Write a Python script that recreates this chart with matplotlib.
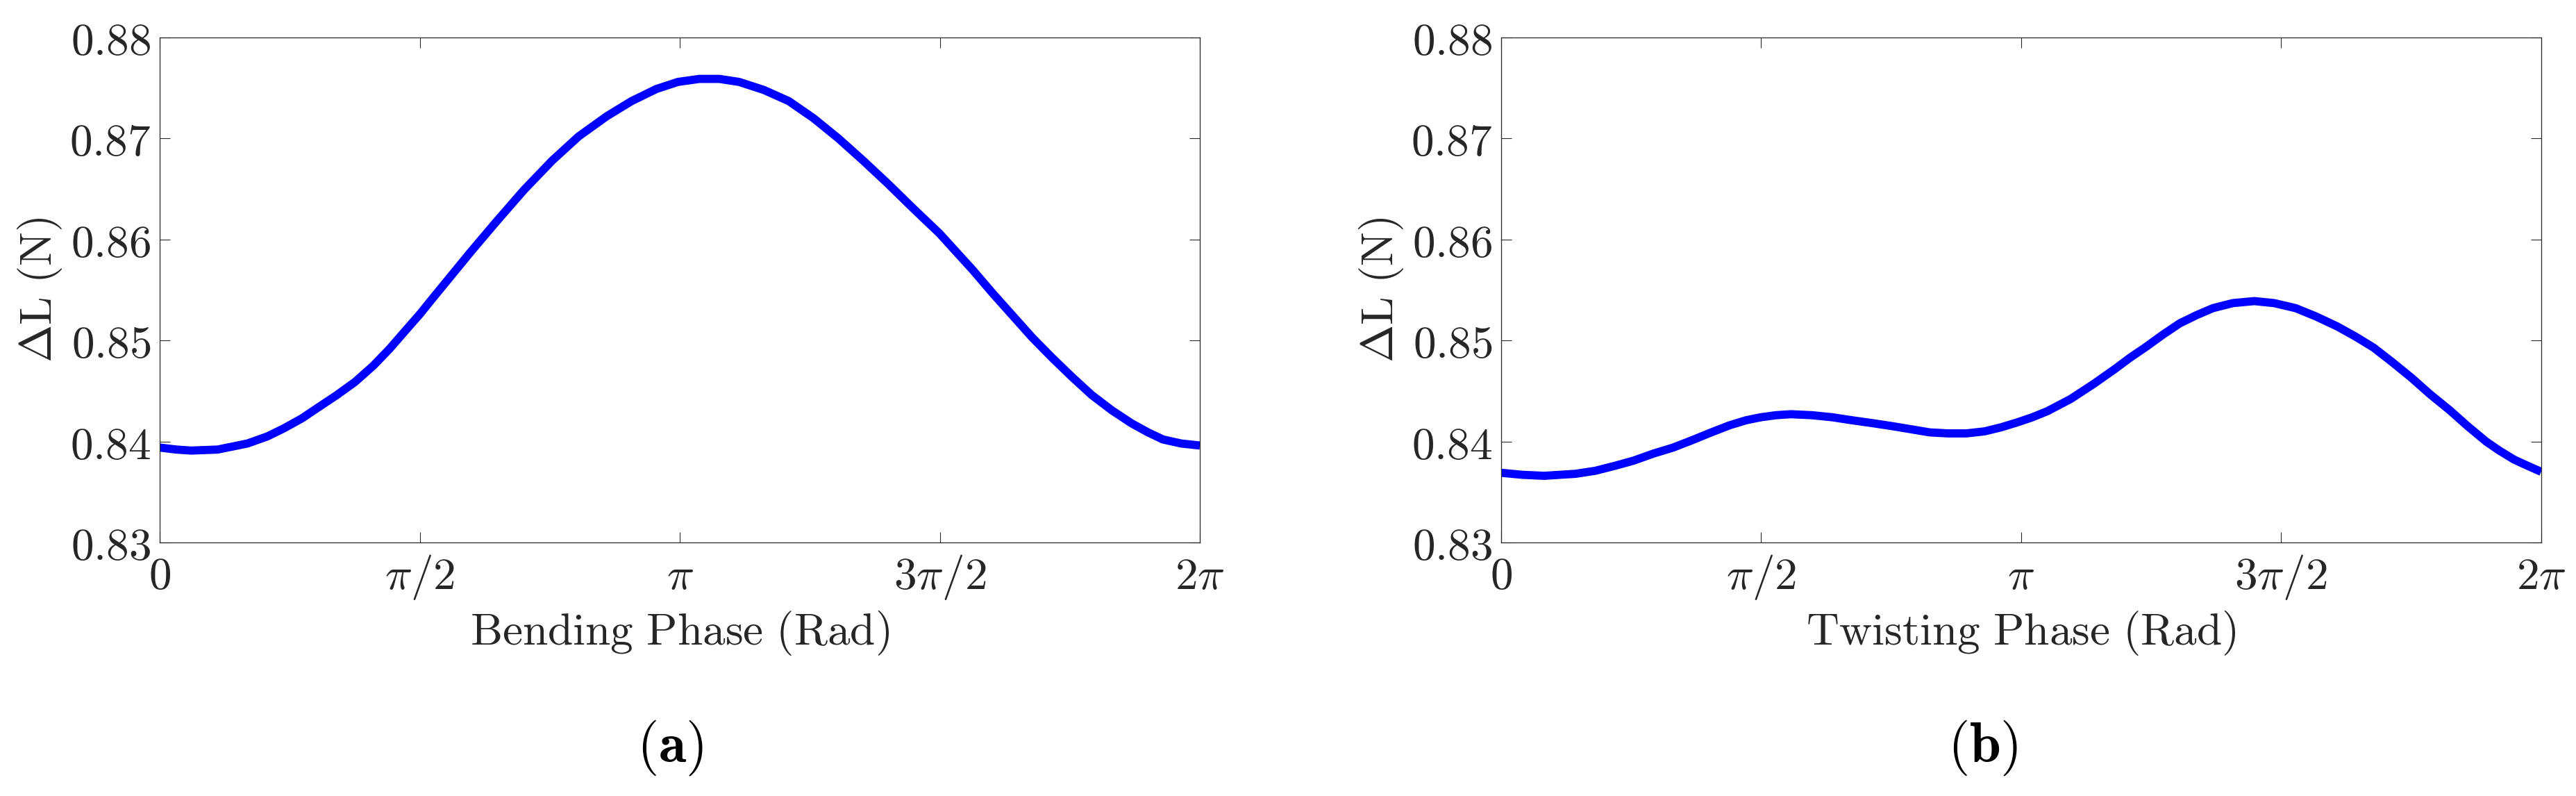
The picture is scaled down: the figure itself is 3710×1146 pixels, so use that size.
import numpy as np
import matplotlib
matplotlib.use("Agg")
import matplotlib.pyplot as plt

# Bending phase sweep (panel a)
bend_phase = [0.00, 0.10, 0.19, 0.35, 0.53, 0.65, 0.75, 0.86, 0.96, 1.07,
              1.18, 1.29, 1.39, 1.48, 1.571, 1.65, 1.73, 1.88, 2.03, 2.20,
              2.37, 2.53, 2.70, 2.85, 3.00, 3.13, 3.26, 3.38, 3.50, 3.65,
              3.80, 3.95, 4.10, 4.25, 4.40, 4.55, 4.71, 4.81, 4.91, 5.03,
              5.15, 5.27, 5.39, 5.51, 5.63, 5.75, 5.87, 5.97, 6.06, 6.17, 6.283]
bend_dL = [0.8394, 0.8392, 0.8391, 0.8392, 0.8398, 0.8405, 0.8413, 0.8423, 0.8434, 0.8446,
           0.8459, 0.8475, 0.8492, 0.8509, 0.8526, 0.8542, 0.8558, 0.8588, 0.8617, 0.8649,
           0.8678, 0.8702, 0.8722, 0.8737, 0.8749, 0.8756, 0.8759, 0.8759, 0.8756, 0.8748,
           0.8737, 0.8720, 0.8700, 0.8678, 0.8655, 0.8631, 0.8606, 0.8588, 0.8570, 0.8547,
           0.8525, 0.8503, 0.8483, 0.8464, 0.8446, 0.8431, 0.8418, 0.8409, 0.8402, 0.8398, 0.8396]

# Twisting phase sweep (panel b)
twist_phase = [0.00, 0.13, 0.26, 0.45, 0.57, 0.69, 0.80, 0.92, 1.04, 1.15,
               1.27, 1.38, 1.48, 1.57, 1.66, 1.75, 1.88, 2.00, 2.12, 2.25,
               2.37, 2.48, 2.59, 2.70, 2.81, 2.92, 3.02, 3.12, 3.21, 3.30,
               3.44, 3.58, 3.71, 3.80, 3.89, 4.00, 4.10, 4.20, 4.30, 4.42,
               4.55, 4.67, 4.80, 4.92, 5.05, 5.16, 5.27, 5.38, 5.50, 5.61,
               5.73, 5.84, 5.95, 6.03, 6.12, 6.20, 6.283]
twist_dL = [0.8369, 0.8367, 0.8366, 0.8368, 0.8371, 0.8376, 0.8381, 0.8388, 0.8394, 0.8401,
            0.8409, 0.8416, 0.8421, 0.8424, 0.8426, 0.8427, 0.8426, 0.8424, 0.8421, 0.8418,
            0.8415, 0.8412, 0.8409, 0.8408, 0.8408, 0.8410, 0.8414, 0.8419, 0.8424, 0.8430,
            0.8442, 0.8457, 0.8472, 0.8483, 0.8493, 0.8506, 0.8517, 0.8525, 0.8532, 0.8537,
            0.8539, 0.8537, 0.8532, 0.8524, 0.8514, 0.8504, 0.8493, 0.8479, 0.8463, 0.8447,
            0.8431, 0.8415, 0.8400, 0.8391, 0.8382, 0.8376, 0.8370]

xticks = [0, np.pi / 2, np.pi, 3 * np.pi / 2, 2 * np.pi]
xtick_labels = [r'$0$', r'$\pi/2$', r'$\pi$', r'$3\pi/2$', r'$2\pi$']
yticks = [0.83, 0.84, 0.85, 0.86, 0.87, 0.88]
ytick_labels = [r'$%.2f$' % v for v in yticks]

panels = [
    (bend_phase, bend_dL, r'$\mathrm{Bending\ Phase\ (Rad)}$', r'$(\mathbf{a})$', 0.0620, 0.2601),
    (twist_phase, twist_dL, r'$\mathrm{Twisting\ Phase\ (Rad)}$', r'$(\mathbf{b})$', 0.5827, 0.7698),
]

plt.rcParams['mathtext.fontset'] = 'cm'
ink = '#262626'

fig = plt.figure(figsize=(37.1, 11.46), dpi=100)

for phase, dL, xlab, tag, left, tag_x in panels:
    ax = fig.add_axes([left, 0.3185, 0.4038, 0.6344])
    ax.plot(phase, dL, color=(0, 0, 1), linewidth=8.5,
            solid_capstyle='butt', solid_joinstyle='round')
    ax.set_xlim(0, 2 * np.pi)
    ax.set_ylim(0.83, 0.88)
    ax.set_xticks(xticks)
    ax.set_xticklabels(xtick_labels, fontsize=47, color=ink, va='baseline')
    ax.set_yticks(yticks)
    ax.set_yticklabels(ytick_labels, fontsize=47, color=ink)
    ax.tick_params(axis='both', direction='in', length=10.8, width=0.8,
                   top=True, right=True, colors=ink)
    ax.tick_params(axis='x', pad=48)
    ax.tick_params(axis='y', pad=9)
    for sp in ax.spines.values():
        sp.set_linewidth(0.9)
        sp.set_color(ink)
    ax.set_xlabel(xlab, fontsize=47, color=ink, labelpad=8)
    ax.set_ylabel(r'$\Delta\mathrm{L\ (N)}$', fontsize=47, color=ink, labelpad=6)
    fig.text(tag_x, 0.0602, tag, fontsize=58, color='black', ha='center', va='center')

fig.savefig('out.png', dpi=100, facecolor='white')
